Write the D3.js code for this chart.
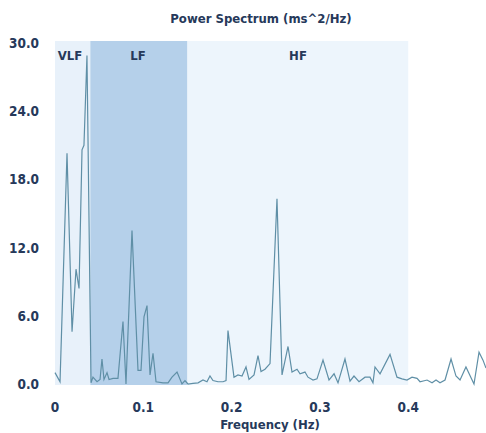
<!DOCTYPE html>
<html lang="en">
	<head>
		<meta charset="utf-8">
		<title>Power Spectrum</title>
		<script type="text/javascript" src="https://cdn.jsdelivr.net/npm/d3@7"></script>
		<style type="text/css">
			body { margin: 0; background: #fff; }
			text { font-family: "DejaVu Sans Condensed", "DejaVu Sans", sans-serif; font-weight: bold; fill: #26395a; }
		</style>
	</head>
	<body>
		<script type="text/javascript">
			var w = 486;
			var h = 433;

			//frequency (Hz) and power (ms^2/Hz)
			var freq = [0, 0.0057, 0.0136, 0.0193, 0.0238, 0.0272, 0.0306, 0.0328, 0.0362, 0.0408,
						0.043, 0.0476, 0.051, 0.0532, 0.0555, 0.0589, 0.0612, 0.0657, 0.0713, 0.077,
						0.0804, 0.0872, 0.094, 0.0974, 0.1008, 0.1042, 0.1076, 0.111, 0.1144, 0.1223,
						0.128, 0.1325, 0.1382, 0.1438, 0.1472, 0.1506, 0.1563, 0.162, 0.1676, 0.1721,
						0.1755, 0.1789, 0.1846, 0.1903, 0.1937, 0.1959, 0.2027, 0.2072, 0.2118, 0.2163,
						0.2197, 0.2254, 0.2299, 0.2333, 0.2378, 0.2435, 0.2514, 0.2571, 0.2639, 0.2684,
						0.2741, 0.2775, 0.2831, 0.2865, 0.2922, 0.2967, 0.3035, 0.3103, 0.316, 0.3205,
						0.3284, 0.3341, 0.3386, 0.3443, 0.3511, 0.3567, 0.3601, 0.3624, 0.3681, 0.3794,
						0.3873, 0.393, 0.3986, 0.4043, 0.41, 0.4134, 0.4213, 0.427, 0.4315, 0.436,
						0.4417, 0.4485, 0.4541, 0.4587, 0.4654, 0.4745, 0.4802, 0.4847, 0.4881];
			var power = [1.0, 0.2, 20.3, 4.6, 10.1, 8.4, 20.6, 21.0, 28.9, 0.1,
						0.6, 0.2, 0.4, 2.2, 0.4, 1.0, 0.4, 0.5, 0.5, 5.5,
						0.0, 13.5, 1.2, 1.2, 5.9, 6.9, 0.8, 2.7, 0.2, 0.1,
						0.1, 0.6, 1.05, 0.0, 0.3, 0.0, 0.05, 0.1, 0.35, 0.2,
						0.7, 0.3, 0.2, 0.2, 0.3, 4.7, 0.6, 0.8, 0.7, 1.5,
						0.4, 0.8, 2.5, 1.1, 1.3, 1.8, 16.3, 0.8, 3.3, 1.05,
						1.3, 0.9, 1.05, 0.6, 0.35, 0.45, 2.1, 0.35, 0.9, 0.1,
						2.2, 0.25, 0.7, 0.2, 0.6, 0.6, 0.1, 1.5, 0.9, 2.6,
						0.6, 0.45, 0.35, 0.6, 0.5, 0.2, 0.35, 0.1, 0.35, 0.1,
						0.35, 2.2, 0.7, 0.35, 1.5, 0.0, 2.8, 2.1, 1.4];

			var bandNames = ["VLF", "LF", "HF"];
			var bandStart = [0, 0.04, 0.15];
			var bandEnd = [0.04, 0.15, 0.4];
			var bandColors = ["#e8f1fa", "#b5d0ea", "#edf5fc"];

			var yTicks = [0, 6, 12, 18, 24, 30];
			var xTicks = [0, 0.1, 0.2, 0.3, 0.4];

			var xScale = d3.scaleLinear()
							.domain([0, 0.4881])
							.range([55, 486]);
			var yScale = d3.scaleLinear()
							.domain([0, 30])
							.range([384, 43]);

			var svg = d3.select("body")
							.append("svg")
							.attr("width", w)
							.attr("height", h);

			//frequency bands
			svg.selectAll("rect.band")
				.data(bandNames)
				.enter()
				.append("rect")
				.attr("class", "band")
				.attr("x", function(d, i) { return xScale(bandStart[i]); })
				.attr("y", yScale(30) - 2)
				.attr("width", function(d, i) { return xScale(bandEnd[i]) - xScale(bandStart[i]); })
				.attr("height", yScale(0) - yScale(30) + 3)
				.attr("fill", function(d, i) { return bandColors[i]; });

			svg.selectAll("text.band")
				.data(bandNames)
				.enter()
				.append("text")
				.attr("class", "band")
				.text(function(d) { return d; })
				.attr("text-anchor", "middle")
				.attr("x", function(d, i) {
					if (i == 0) return 70;
					if (i == 1) return 138;
					return 298;
				})
				.attr("y", 60)
				.attr("font-size", "13px");

			//spectrum line
			var line = d3.line()
							.x(function(d, i) { return xScale(freq[i]); })
							.y(function(d) { return yScale(d); });
			svg.append("path")
				.datum(power)
				.attr("d", line)
				.attr("fill", "none")
				.attr("stroke", "#5f8fa6")
				.attr("stroke-width", 1.2);

			//axis labels, no axis lines
			svg.selectAll("text.ytick")
				.data(yTicks)
				.enter()
				.append("text")
				.attr("class", "ytick")
				.text(function(d) { return d3.format(".1f")(d); })
				.attr("text-anchor", "end")
				.attr("x", 39)
				.attr("y", function(d) { return yScale(d) + 5; })
				.attr("font-size", "13.5px");

			svg.selectAll("text.xtick")
				.data(xTicks)
				.enter()
				.append("text")
				.attr("class", "xtick")
				.text(function(d) { return d == 0 ? "0" : d3.format(".1f")(d); })
				.attr("text-anchor", "middle")
				.attr("x", function(d) { return xScale(d); })
				.attr("y", 412)
				.attr("font-size", "13.5px");

			svg.append("text")
				.text("Power Spectrum (ms^2/Hz)")
				.attr("text-anchor", "middle")
				.attr("x", 261)
				.attr("y", 23)
				.attr("font-size", "13px");

			svg.append("text")
				.text("Frequency (Hz)")
				.attr("text-anchor", "middle")
				.attr("x", 270)
				.attr("y", 429)
				.attr("font-size", "13px");
		</script>
	</body>
</html>
